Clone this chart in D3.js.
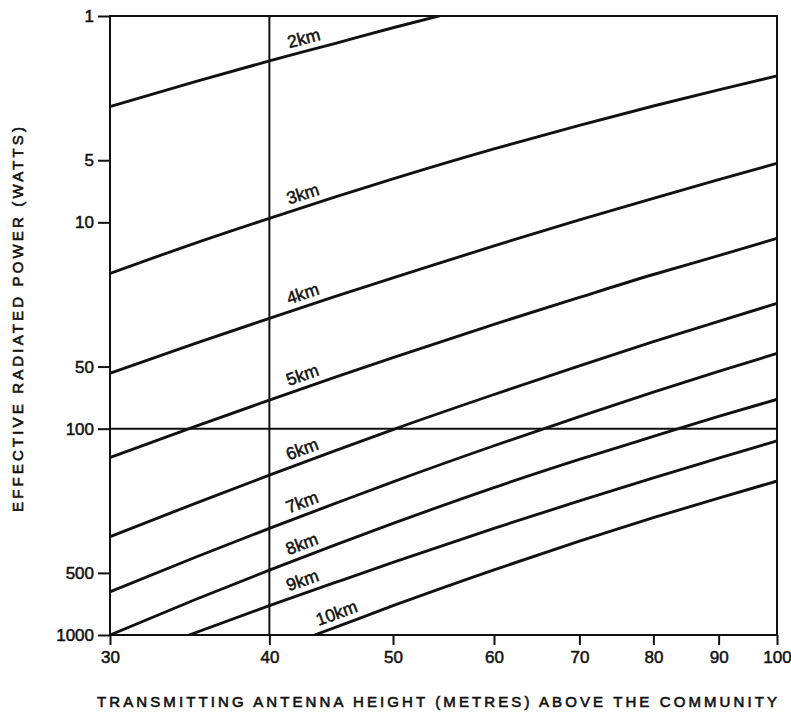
<!DOCTYPE html>
<html>
  <head>
    <meta charset="UTF-8">
    <style>
      body {
        margin: 0;
        background: white;
        font-family: "Liberation Sans", Arial, Helvetica, sans-serif;
      }

      .x-axis text,
      .y-axis text {
        font-size: 17px;
        fill: #111;
        stroke: #111;
        stroke-width: 0.5;
      }

      .x-axis .tick line,
      .y-axis .tick line {
        stroke: #111;
        stroke-width: 2;
      }

      .curve {
        fill: none;
        stroke: #111;
        stroke-width: 2.9;
      }

      .ref-line {
        stroke: #111;
        stroke-width: 2;
      }

      .curve-label {
        font-size: 17.5px;
        fill: #111;
        stroke: #111;
        stroke-width: 0.5;
      }

      .axis-title {
        font-size: 15px;
        fill: #111;
        stroke: #111;
        stroke-width: 0.6;
      }
    </style>
    <script src="https://d3js.org/d3.v7.min.js"></script>
  </head>

  <body>
    <svg id="chart"></svg>

    <script type="text/javascript">
      // heights (m) and effective radiated power (W)
      const distances = ['2km', '3km', '4km', '5km', '6km', '7km', '8km', '9km', '10km']
      const heights = [30, 35, 40, 45, 50, 60, 70, 80, 90, 100]
      const heights2km = [30, 35, 40, 45, 50, 55]
      const heights9km = [34.6, 40, 45, 50, 60, 70, 80, 90, 100]
      const heights10km = [43.4, 45, 50, 60, 70, 80, 90, 100]

      const erp2km = [2.75, 2.08, 1.65, 1.36, 1.14, 0.98]
      const erp3km = [17.7, 12.6, 9.56, 7.55, 6.16, 4.41, 3.39, 2.73, 2.28, 1.95]
      const erp4km = [53.9, 38.6, 29.2, 22.9, 18.6, 13.0, 9.74, 7.65, 6.21, 5.18]
      const erp5km = [138, 97.5, 72.7, 56.4, 45.2, 31.2, 23.1, 17.9, 14.5, 11.95]
      const erp6km = [334, 230, 168, 128, 101, 68.3, 49.6, 37.9, 30.2, 24.7]
      const erp7km = [617, 420, 304, 231, 181, 121, 87.5, 66.6, 52.8, 43.2]
      const erp8km = [1000, 673, 485, 367, 288, 193, 141, 109, 87.1, 72.1]
      const erp9km = [1000, 720, 558, 445, 304, 224, 173, 139, 114.5]
      const erp10km = [1000, 921, 721, 483, 351, 270, 217, 179.5]

      const xTicks = [30, 40, 50, 60, 70, 80, 90, 100]
      const yTicks = [1, 5, 10, 50, 100, 500, 1000]
      const refHeight = 40
      const refPower = 100

      function getSeries() {
        let heightSets = [heights2km, heights, heights, heights, heights, heights, heights, heights9km, heights10km]
        let valueSets = [erp2km, erp3km, erp4km, erp5km, erp6km, erp7km, erp8km, erp9km, erp10km]
        return distances.map((name, i) => ({
          name: name,
          points: heightSets[i].map((h, j) => ({ height: h, power: valueSets[i][j] }))
        }))
      }

      function getChartConfig() {
        let width = 791
        let height = 714
        let margin = { top: 16, left: 110, right: 14, bottom: 79 }
        let bodyWidth = width - margin.left - margin.right
        let bodyHeight = height - margin.top - margin.bottom

        let container = d3.select('#chart')
          .attr('width', width)
          .attr('height', height)

        return { width, height, margin, bodyWidth, bodyHeight, container }
      }

      function getChartScales(config) {
        let xScale = d3.scaleLog()
          .domain([30, 100])
          .range([0, config.bodyWidth])

        let yScale = d3.scaleLog()
          .domain([1, 1000])
          .range([0, config.bodyHeight])

        return { xScale, yScale }
      }

      function drawFrame(scales, config) {
        let g = config.container.append('g')
          .attr('transform', `translate(${config.margin.left},${config.margin.top})`)

        g.append('defs').append('clipPath')
          .attr('id', 'plot-clip')
          .append('rect')
          .attr('width', config.bodyWidth)
          .attr('height', config.bodyHeight)

        g.append('line')
          .attr('class', 'ref-line')
          .attr('x1', scales.xScale(refHeight))
          .attr('x2', scales.xScale(refHeight))
          .attr('y1', 0)
          .attr('y2', config.bodyHeight)

        g.append('line')
          .attr('class', 'ref-line')
          .attr('x1', 0)
          .attr('x2', config.bodyWidth)
          .attr('y1', scales.yScale(refPower))
          .attr('y2', scales.yScale(refPower))

        g.append('rect')
          .attr('width', config.bodyWidth)
          .attr('height', config.bodyHeight)
          .attr('fill', 'none')
          .attr('stroke', '#111')
          .attr('stroke-width', 2)

        return g
      }

      function drawCurves(series, scales, config, g) {
        let line = d3.line()
          .x(d => scales.xScale(d.height))
          .y(d => scales.yScale(d.power))
          .curve(d3.curveMonotoneX)

        g.append('g')
          .attr('clip-path', 'url(#plot-clip)')
          .selectAll('.curve')
          .data(series)
          .enter()
          .append('path')
          .attr('class', 'curve')
          .attr('d', d => line(d.points))
      }

      function pointOnCurve(points, h, scales) {
        let px = scales.xScale(h)
        let screen = points.map(p => [scales.xScale(p.height), scales.yScale(p.power)])
        for (let i = 0; i < screen.length - 1; i++) {
          let a = screen[i]
          let b = screen[i + 1]
          if (px >= a[0] && px <= b[0]) {
            let t = (px - a[0]) / (b[0] - a[0])
            let angle = Math.atan2(b[1] - a[1], b[0] - a[0]) * 180 / Math.PI
            return { x: px, y: a[1] + t * (b[1] - a[1]), angle }
          }
        }
        return { x: px, y: screen[0][1], angle: 0 }
      }

      function drawCurveLabels(series, scales, config, g) {
        series.forEach(s => {
          let h = s.name === '10km' ? 43.9 : 41.6
          let p = pointOnCurve(s.points, h, scales)
          g.append('text')
            .attr('class', 'curve-label')
            .attr('transform', `translate(${p.x},${p.y}) rotate(${p.angle})`)
            .attr('dy', -7)
            .text(s.name)
        })
      }

      function drawAxes(scales, config) {
        let axisX = d3.axisBottom(scales.xScale)
          .tickValues(xTicks)
          .tickFormat(d3.format('d'))
          .tickSize(10)
          .tickPadding(6)

        config.container.append('g')
          .attr('class', 'x-axis')
          .attr('transform', `translate(${config.margin.left},${config.margin.top + config.bodyHeight})`)
          .call(axisX)
          .call(g => g.select('.domain').remove())

        let axisY = d3.axisLeft(scales.yScale)
          .tickValues(yTicks)
          .tickFormat(d3.format('d'))
          .tickSize(12)
          .tickPadding(4)

        config.container.append('g')
          .attr('class', 'y-axis')
          .attr('transform', `translate(${config.margin.left},${config.margin.top})`)
          .call(axisY)
          .call(g => g.select('.domain').remove())

        config.container.selectAll('.x-axis, .y-axis')
          .attr('font-family', null)
          .attr('font-size', null)

        config.container.append('text')
          .attr('class', 'axis-title')
          .attr('x', 97)
          .attr('y', 707)
          .attr('textLength', 680)
          .attr('lengthAdjust', 'spacing')
          .text('TRANSMITTING ANTENNA HEIGHT (METRES) ABOVE THE COMMUNITY')

        config.container.append('text')
          .attr('class', 'axis-title')
          .attr('transform', 'translate(23,512) rotate(-90)')
          .attr('textLength', 385)
          .attr('lengthAdjust', 'spacing')
          .text('EFFECTIVE RADIATED POWER (WATTS)')
      }

      function showData() {
        let series = getSeries()
        let config = getChartConfig()
        let scales = getChartScales(config)

        let g = drawFrame(scales, config)
        drawCurves(series, scales, config, g)
        drawCurveLabels(series, scales, config, g)
        drawAxes(scales, config)
      }

      showData()
    </script>
  </body>
</html>
